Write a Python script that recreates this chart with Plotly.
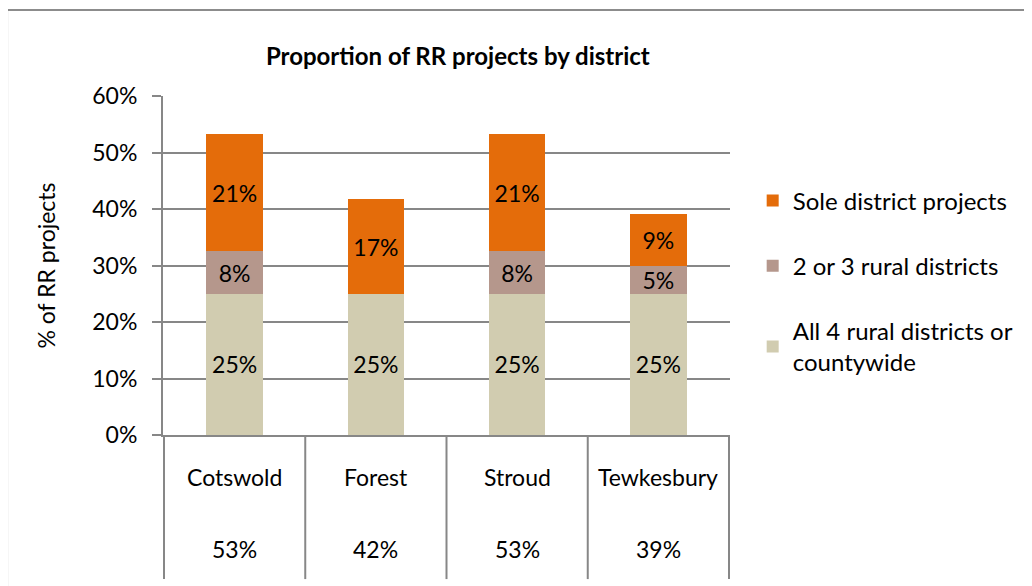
import plotly.graph_objects as go

# data (percent of RR projects)
districts = ["Cotswold", "Forest", "Stroud", "Tewkesbury"]
all4 = [25, 25, 25, 25]
two_or_three = [7.5, 0, 7.5, 5]
sole = [20.8, 16.7, 20.8, 9.2]

series = [
    ("All 4 rural districts or<br>countywide", all4, "#D1CCB0", 3),
    ("2 or 3 rural districts", two_or_three, "#B5978C", 2),
    ("Sole district projects", sole, "#E46C0A", 1),
]

FONT = "Lato, Calibri, sans-serif"
GRID = "#878787"

fig = go.Figure()
for name, vals, col, rank in series:
    fig.add_trace(go.Bar(
        x=districts, y=vals, name=name, legendgroup=name, legendrank=rank,
        marker=dict(color=col, line=dict(width=0)),
        text=[f"{v:.0f}%" if v else "" for v in vals],
        textposition="inside", insidetextanchor="middle",
        constraintext="none",
        textfont=dict(color="black", size=23, family=FONT),
        hoverinfo="skip",
    ))

totals = [a + b + c for a, b, c in zip(all4, two_or_three, sole)]

# data-table style category area under the axis
depth = -0.425
for i in range(len(districts) + 1):
    fig.add_shape(type="line", xref="x", yref="paper",
                  x0=i - 0.5, x1=i - 0.5, y0=0, y1=depth,
                  line=dict(color=GRID, width=2))
for i, d in enumerate(districts):
    fig.add_annotation(x=d, xref="x", y=-0.124, yref="paper", yanchor="middle",
                       text=d, showarrow=False,
                       font=dict(size=23, family=FONT, color="black"))
    fig.add_annotation(x=d, xref="x", y=-0.336, yref="paper", yanchor="middle",
                       text=f"{totals[i]:.0f}%", showarrow=False,
                       font=dict(size=23, family=FONT, color="black"))

# chart border
fig.add_shape(type="rect", xref="paper", yref="paper",
              x0=-0.275, x1=1.7, y0=-0.6, y1=1.2537,
              line=dict(color="#8C8C8C", width=2), layer="below")

# page body has an 8px margin, so margins are offset by 8
fig.update_layout(
    width=1032, height=586,
    barmode="stack", bargap=0.6,
    plot_bgcolor="white", paper_bgcolor="white",
    margin=dict(l=155, r=310, t=88, b=159),
    font=dict(family=FONT, size=23, color="black"),
    title=dict(text="<b>Proportion of RR projects by district</b>",
               xref="paper", x=0.52, xanchor="center",
               y=1 - 49 / 586, yanchor="middle",
               font=dict(size=24, family=FONT, color="black")),
    xaxis=dict(showticklabels=False, showline=True, linecolor=GRID, linewidth=2,
               ticks="", showgrid=False),
    yaxis=dict(range=[0, 60], dtick=10, ticksuffix="%",
               showgrid=True, gridcolor=GRID, gridwidth=2,
               showline=True, linecolor=GRID, linewidth=2,
               ticks="outside", ticklen=9, tickcolor=GRID, tickwidth=2,
               ticklabelstandoff=10,
               zeroline=False,
               title=dict(text="% of RR projects", standoff=30,
                          font=dict(size=23, family=FONT))),
    legend=dict(x=1.04, xanchor="left", y=0.757, yanchor="top",
                traceorder="grouped", tracegroupgap=31,
                font=dict(size=24, family=FONT), bgcolor="rgba(0,0,0,0)"),
    showlegend=True,
)

fig.write_html("out.html")
